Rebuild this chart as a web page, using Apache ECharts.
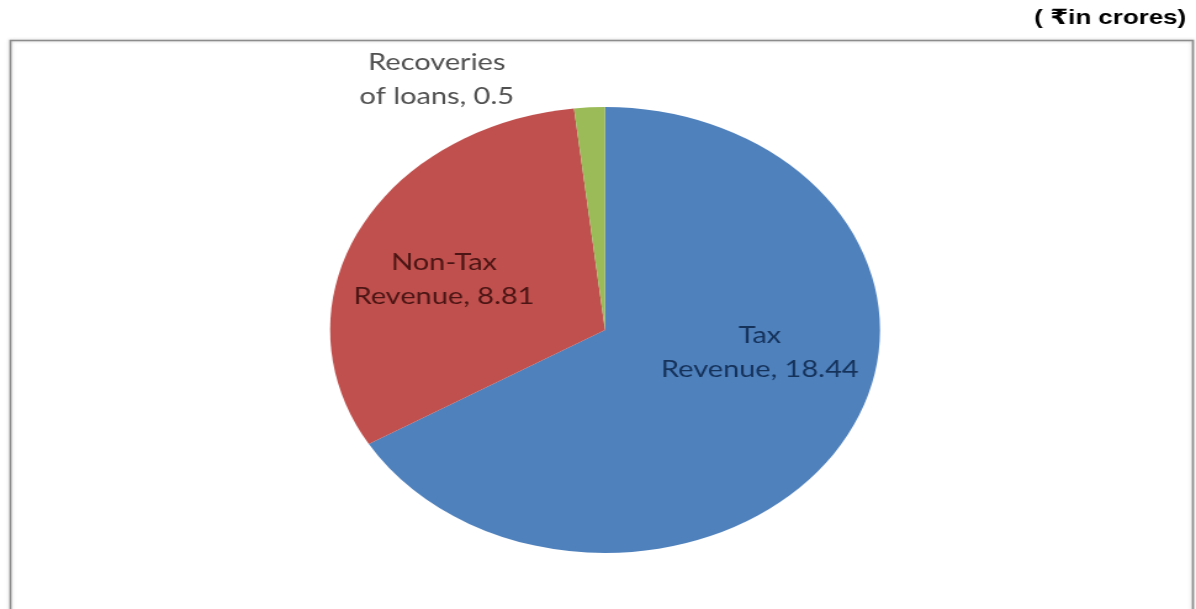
<!DOCTYPE html>
<html>
<head>
<meta charset="utf-8">
<script src="https://cdn.jsdelivr.net/npm/echarts@6/dist/echarts.min.js"></script>
<style>
  html, body { margin: 0; padding: 0; background: #ffffff; overflow: hidden; }
  #wrap { width: 1196px; height: 609px; position: relative; overflow: hidden; }
  /* the chart is laid out on a narrower canvas and widened, giving the oval pie */
  #chart { width: 970px; height: 609px; position: absolute; left: 0; top: 0;
           transform: scaleX(1.233); transform-origin: 0 0; }
</style>
</head>
<body>
<div id="wrap"><div id="chart"></div></div>
<script>
// Receipts by source (₹ in crores)
const categories = ['Tax\nRevenue', 'Non-Tax\nRevenue', 'Recoveries\nof loans'];
const values = [18.44, 8.81, 0.5];
const unitNote = '( ₹in crores)';

const sliceColors = ['#4f81bd', '#c0504d', '#9bbb59'];
const labelColors = ['#15325a', '#4a1514', '#505050'];
const labelOffsets = [[26, -34], [-28, 0], [-130, -136]];

const chart = echarts.init(document.getElementById('chart'), null, { renderer: 'canvas' });

const pieData = categories.map((name, i) => ({
  name: name,
  value: values[i],
  itemStyle: { color: sliceColors[i] },
  label: { color: labelColors[i], offset: labelOffsets[i] }
}));

chart.setOption({
  animation: false,
  backgroundColor: '#ffffff',
  graphic: [
    {
      type: 'rect',
      shape: { x: 8.5, y: 40.5, width: 959, height: 580 },
      style: { fill: 'none', stroke: '#8c8c8c', lineWidth: 1.6,
               shadowColor: 'rgba(0,0,0,0.25)', shadowBlur: 3 },
      silent: true
    },
    {
      type: 'text',
      right: 8,
      top: 8,
      style: {
        text: unitNote,
        font: 'bold 21px "Liberation Sans", Arial, "DejaVu Sans", sans-serif',
        fill: '#000000'
      }
    }
  ],
  series: [{
    type: 'pie',
    center: [490.7, 330],
    radius: [0, 223],
    startAngle: 90,
    clockwise: true,
    avoidLabelOverlap: false,
    data: pieData,
    label: {
      show: true,
      position: 'inside',
      formatter: p => p.name.split('\n')[0] + '\n' + p.name.split('\n')[1] + ', ' + p.value,
      fontFamily: 'Lato, "Open Sans", sans-serif',
      fontSize: 23.5,
      lineHeight: 34,
      align: 'center'
    },
    labelLine: { show: false },
    emphasis: { disabled: true }
  }]
});
</script>
</body>
</html>
